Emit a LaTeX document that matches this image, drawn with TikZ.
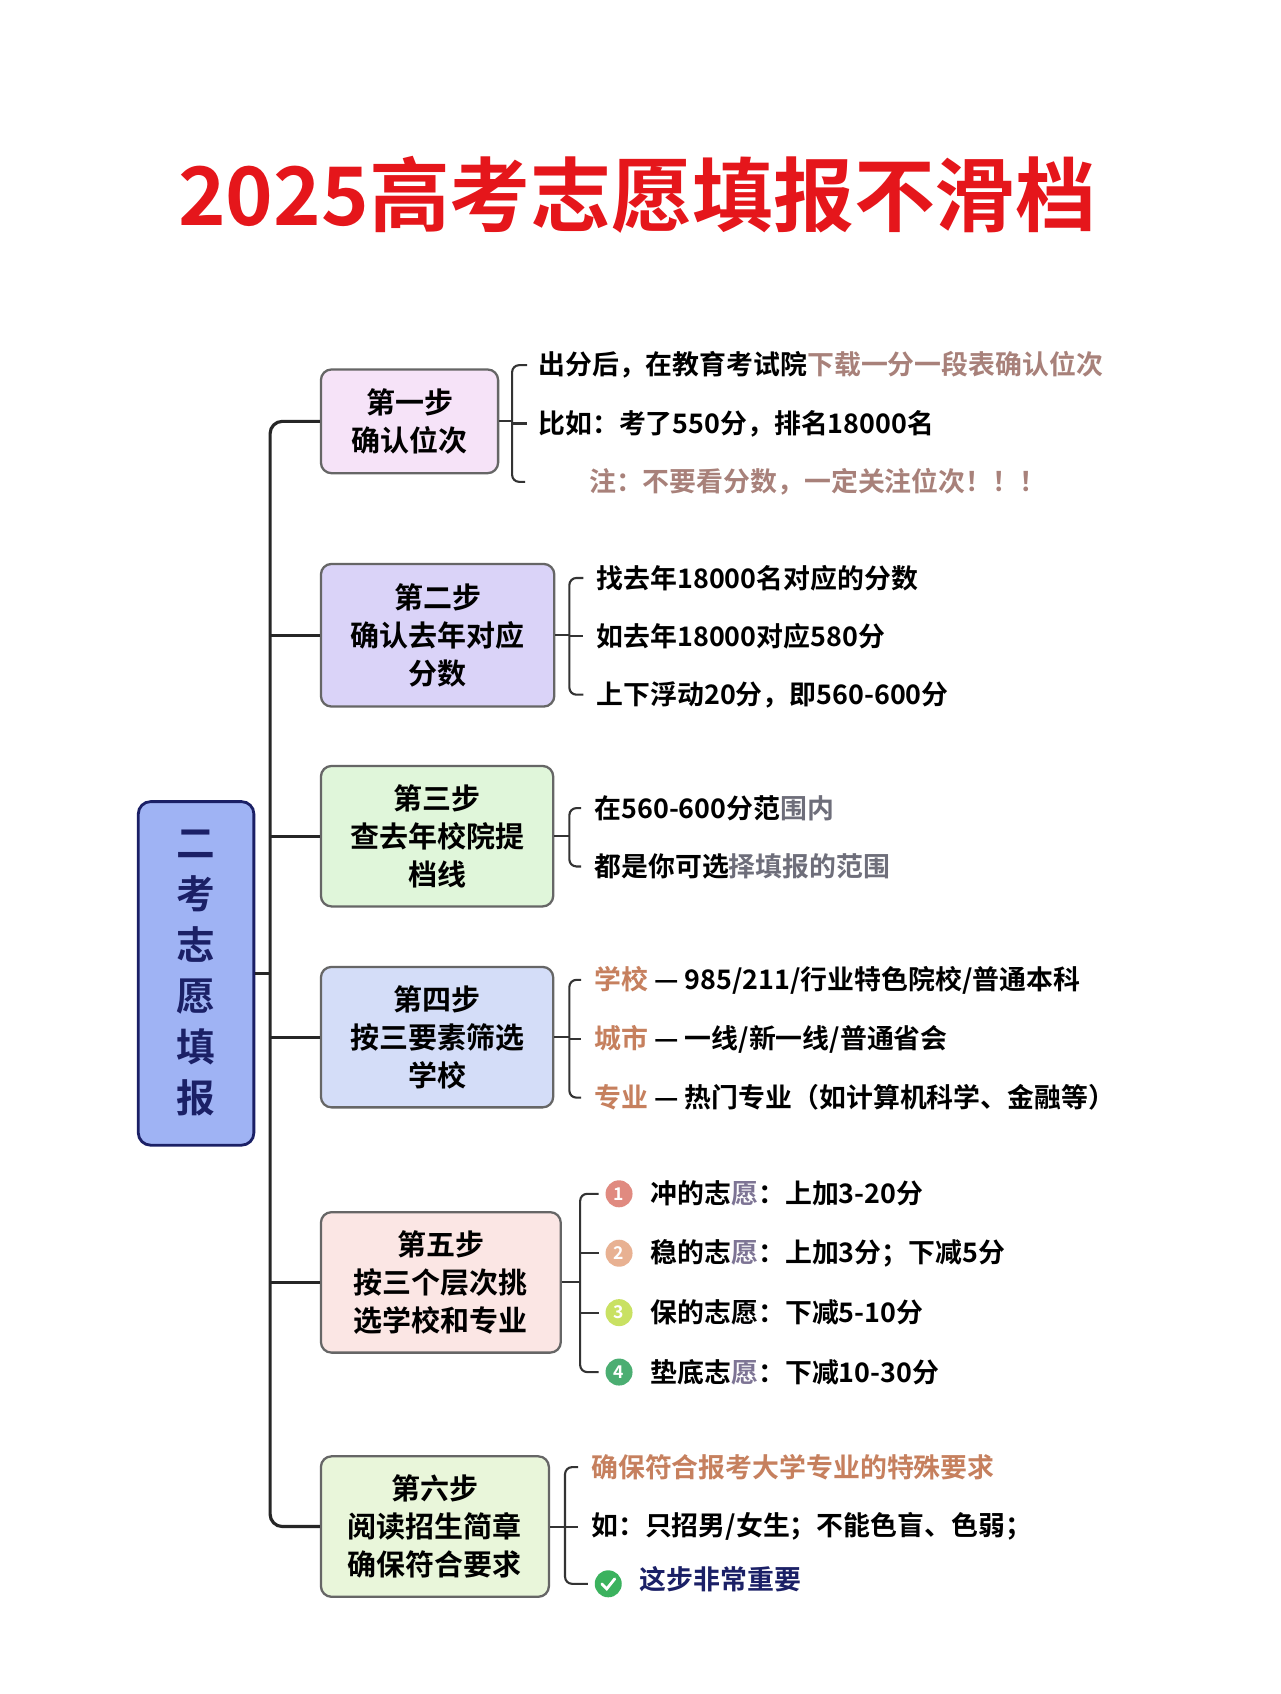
\documentclass[tikz,border=0pt]{standalone}
\usepackage{fontspec}
\setmainfont{Noto Sans CJK SC}[BoldFont=* Bold]
\definecolor{ttl}{HTML}{E5161B}
\definecolor{navy}{HTML}{1B2066}
\definecolor{rootf}{HTML}{9FB3F4}
\definecolor{brn}{HTML}{A8817A}
\definecolor{org}{HTML}{C6805E}
\definecolor{yu}{HTML}{7D7494}
\definecolor{gr}{HTML}{6E6E7A}
\definecolor{fa}{HTML}{F6E3F8}
\definecolor{fb}{HTML}{DAD3F8}
\definecolor{fc}{HTML}{E0F6DA}
\definecolor{fd}{HTML}{D4DDF8}
\definecolor{fe}{HTML}{FBE6E4}
\definecolor{ff}{HTML}{E9F6DA}
\definecolor{ca}{HTML}{E08A80}
\definecolor{cb}{HTML}{E8B192}
\definecolor{cc}{HTML}{C9E163}
\definecolor{cd}{HTML}{4BAE72}
\definecolor{ok}{HTML}{3BB25E}
\tikzset{
  stepbox/.style={draw=black!60,line width=1.3pt,rounded corners=6pt,align=center,font=\bfseries\fontsize{16.5}{21.5}\selectfont,inner sep=0pt,anchor=west},
  leaf/.style={anchor=west,font=\bfseries\fontsize{15.3}{17}\selectfont,inner sep=0pt},
  br/.style={draw=black!80,line width=1.2pt,rounded corners=4pt},
  spine/.style={draw=black!85,line width=1.8pt,rounded corners=7pt},
  num/.style={circle,inner sep=0pt,minimum size=0.54cm,text=white,font=\bfseries\fontsize{10}{10}\selectfont}
}
\begin{document}
\begin{tikzpicture}[x=0.0216cm,y=-0.0216cm]
\useasboundingbox (0,0) rectangle (1185,1568);
\fill[white] (0,0) rectangle (1185,1568);
\node[font=\bfseries\fontsize{46}{50}\selectfont,text=ttl] (title) at (590,180) {2025高考志愿填报不滑档};
\node[draw=navy,line width=1.6pt,fill=rootf,rounded corners=7pt,minimum width=107*0.0216cm,minimum height=318*0.0216cm,align=center,text=navy,font=\bfseries\fontsize{22}{29}\selectfont] (root) at (181.5,901) {二\\考\\志\\愿\\填\\报};
% steps
\node[stepbox,fill=fa,minimum width=164*0.0216cm,minimum height=96*0.0216cm] (s1) at (296,390) {第一步\\确认位次};
\node[stepbox,fill=fb,minimum width=216*0.0216cm,minimum height=132*0.0216cm] (s2) at (296,588) {第二步\\确认去年对应\\分数};
\node[stepbox,fill=fc,minimum width=215*0.0216cm,minimum height=130*0.0216cm] (s3) at (296,774) {第三步\\查去年校院提\\档线};
\node[stepbox,fill=fd,minimum width=215*0.0216cm,minimum height=130*0.0216cm] (s4) at (296,960) {第四步\\按三要素筛选\\学校};
\node[stepbox,fill=fe,minimum width=222*0.0216cm,minimum height=130*0.0216cm] (s5) at (296,1187) {第五步\\按三个层次挑\\选学校和专业};
\node[stepbox,fill=ff,minimum width=211*0.0216cm,minimum height=130*0.0216cm] (s6) at (296,1413) {第六步\\阅读招生简章\\确保符合要求};
% spine
\draw[spine] (root.east) -- (250,901);
\draw[spine] (s1.west) -- (250,390) -- (250,1413) -- (s6.west);
\foreach \s/\y in {s2/588,s3/774,s4/960,s5/1187}{\draw[spine] (250,\y) -- (\s.west);}
% leaves step1
\node[leaf] (l11) at (498,338) {出分后，在教育考试院\textcolor{brn}{下载一分一段表确认位次}};
\node[leaf] (l12) at (498,392) {比如：考了550分，排名18000名};
\node[leaf,text=brn] (l13) at (545,446) {注：不要看分数，一定关注位次！！！};
\coordinate (e11) at (488,338); \coordinate (e12) at (488,392); \coordinate (e13) at (486,446);
\draw[br] (s1.east) -- (474,390);
\draw[br] (e11) -- (474,338) -- (474,446) -- (e13);
\draw[br] (474,392) -- (e12);
% step2
\node[leaf] (l21) at (552,535) {找去年18000名对应的分数};
\node[leaf] (l22) at (552,589) {如去年18000对应580分};
\node[leaf] (l23) at (552,643) {上下浮动20分，即560-600分};
\draw[br] (s2.east) -- (527,588);
\draw[br] ([xshift=-12*0.0216cm]l21.west) -- (527,535) -- (527,643) -- ([xshift=-12*0.0216cm]l23.west);
\draw[br] (527,589) -- ([xshift=-12*0.0216cm]l22.west);
% step3
\node[leaf] (l31) at (550,748) {在560-600分范\textcolor{gr}{围内}};
\node[leaf] (l32) at (550,802) {都是你可选\textcolor{gr}{择填报的范围}};
\draw[br] (s3.east) -- (527,774);
\draw[br] ([xshift=-12*0.0216cm]l31.west) -- (527,748) -- (527,802) -- ([xshift=-12*0.0216cm]l32.west);
% step4
\node[leaf] (l41) at (550,907) {\textcolor{org}{学校} — 985/211/行业特色院校/普通本科};
\node[leaf] (l42) at (550,962) {\textcolor{org}{城市} — 一线/新一线/普通省会};
\node[leaf] (l43) at (550,1016) {\textcolor{org}{专业} — 热门专业（如计算机科学、金融等）};
\draw[br] (s4.east) -- (527,960);
\draw[br] ([xshift=-12*0.0216cm]l41.west) -- (527,907) -- (527,1016) -- ([xshift=-12*0.0216cm]l43.west);
\draw[br] (527,962) -- ([xshift=-12*0.0216cm]l42.west);
% step5
\node[num,fill=ca] (n1) at (573,1105) {1};
\node[num,fill=cb] (n2) at (573,1160) {2};
\node[num,fill=cc] (n3) at (573,1215) {3};
\node[num,fill=cd] (n4) at (573,1270) {4};
\node[leaf] (l51) at (602,1105) {冲的志\textcolor{yu}{愿}：上加3-20分};
\node[leaf] (l52) at (602,1160) {稳的志\textcolor{yu}{愿}：上加3分；下减5分};
\node[leaf] (l53) at (602,1215) {保的志愿：下减5-10分};
\node[leaf] (l54) at (602,1270) {垫底志\textcolor{yu}{愿}：下减10-30分};
\draw[br] (s5.east) -- (537,1187);
\draw[br] ([xshift=-6*0.0216cm]n1.west) -- (537,1105) -- (537,1270) -- ([xshift=-6*0.0216cm]n4.west);
\draw[br] (537,1160) -- ([xshift=-6*0.0216cm]n2.west);
\draw[br] (537,1215) -- ([xshift=-6*0.0216cm]n3.west);
% step6
\node[leaf,text=org] (l61) at (547,1358) {确保符合报考大学专业的特殊要求};
\node[leaf] (l62) at (547,1413) {如：只招男/女生；不能色盲、色弱；};
\node[circle,fill=ok,minimum size=0.54cm,inner sep=0pt] (ck) at (563,1466) {};
\draw[white,line width=1.6pt,line cap=round] ([xshift=-0.13cm]ck.center) -- ([xshift=-0.03cm,yshift=-0.1cm]ck.center) -- ([xshift=0.13cm,yshift=0.1cm]ck.center);
\node[leaf,text=navy] (l63) at (592,1462) {这步非常重要};
\draw[br] (s6.east) -- (523,1413);
\draw[br] ([xshift=-12*0.0216cm]l61.west) -- (523,1358) -- (523,1466) -- ([xshift=-6*0.0216cm]ck.west);
\draw[br] (523,1413) -- ([xshift=-12*0.0216cm]l62.west);
\end{tikzpicture}
\end{document}
